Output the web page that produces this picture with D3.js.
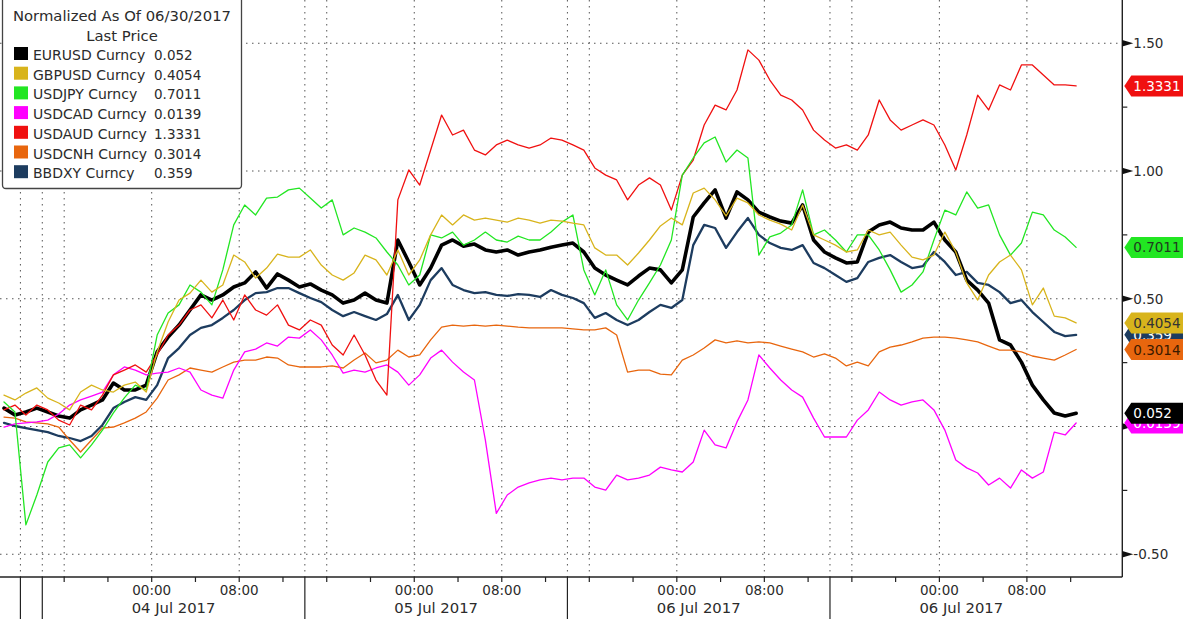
<!DOCTYPE html>
<html><head><meta charset="utf-8">
<script src="https://cdn.jsdelivr.net/npm/d3@7"></script>
<style>
html,body{margin:0;padding:0;background:#fff;}
svg{display:block;font-family:"DejaVu Sans",Verdana,sans-serif;}
</style></head><body>
<svg id="chart" width="1183" height="624"></svg>
<script>
// ---------------- DATA ----------------
const seriesNames = ["EURUSD Curncy","GBPUSD Curncy","USDJPY Curncy","USDCAD Curncy","USDAUD Curncy","USDCNH Curncy","BBDXY Curncy"];
const lastPrices  = ["0.052","0.4054","0.7011","0.0139","1.3331","0.3014","0.359"];
const seriesColors = ["#000000","#d8b41c","#22e622","#ff00ff","#f01010","#e8660e","#1d3c5f"];

// hourly samples, first sample 03 Jul 2017 10:30
const eurusd = [0.072,0.045,0.057,0.072,0.057,0.041,0.033,0.065,0.084,0.104,
0.170,0.143,0.143,0.162,0.292,0.350,0.397,0.456,0.515,0.495,
0.515,0.546,0.562,0.605,0.542,0.597,0.573,0.546,0.558,0.534,
0.515,0.483,0.495,0.522,0.495,0.483,0.730,0.644,0.554,0.620,
0.710,0.730,0.706,0.714,0.691,0.683,0.691,0.671,0.683,0.691,
0.702,0.710,0.718,0.683,0.620,0.593,0.573,0.554,0.589,0.620,
0.613,0.562,0.613,0.820,0.875,0.926,0.816,0.918,0.887,0.839,
0.820,0.804,0.796,0.867,0.730,0.683,0.660,0.640,0.644,0.761,
0.789,0.800,0.777,0.769,0.769,0.800,0.730,0.683,0.573,0.534,
0.483,0.339,0.319,0.252,0.162,0.104,0.053,0.041,0.052];
const gbpusd = [0.123,0.104,0.131,0.151,0.111,0.092,0.065,0.135,0.162,0.143,
0.135,0.162,0.174,0.135,0.292,0.409,0.495,0.522,0.573,0.526,
0.554,0.671,0.644,0.581,0.620,0.675,0.663,0.663,0.691,0.632,
0.593,0.573,0.601,0.671,0.652,0.593,0.691,0.593,0.652,0.750,
0.828,0.789,0.828,0.808,0.816,0.808,0.800,0.816,0.808,0.796,
0.808,0.804,0.796,0.789,0.699,0.671,0.671,0.632,0.679,0.730,
0.785,0.816,0.789,0.914,0.933,0.887,0.824,0.894,0.875,0.828,
0.808,0.792,0.769,0.867,0.750,0.730,0.710,0.683,0.691,0.769,
0.750,0.761,0.710,0.663,0.652,0.671,0.761,0.683,0.562,0.495,
0.593,0.644,0.671,0.613,0.476,0.542,0.432,0.425,0.4054];
const usdjpy = [0.096,0.057,-0.385,-0.268,-0.139,-0.084,-0.072,-0.123,-0.072,-0.014,
0.053,0.112,0.162,0.143,0.358,0.444,0.476,0.554,0.526,0.476,
0.613,0.789,0.867,0.828,0.894,0.898,0.926,0.933,0.894,0.855,
0.887,0.750,0.777,0.761,0.738,0.683,0.632,0.554,0.593,0.750,
0.738,0.761,0.710,0.730,0.761,0.730,0.722,0.745,0.730,0.730,
0.761,0.800,0.828,0.613,0.515,0.613,0.476,0.417,0.495,0.562,
0.632,0.730,0.984,1.051,1.110,1.133,1.035,1.082,1.051,0.671,
0.742,0.757,0.789,0.926,0.750,0.769,0.730,0.683,0.750,0.750,
0.691,0.613,0.526,0.554,0.605,0.730,0.847,0.828,0.918,0.855,
0.867,0.750,0.671,0.718,0.839,0.828,0.769,0.742,0.7011];
const usdcad = [-0.002,0.010,0.014,0.018,0.025,0.049,0.084,0.104,0.119,0.135,
0.202,0.233,0.221,0.202,0.209,0.213,0.229,0.213,0.143,0.123,
0.111,0.221,0.292,0.303,0.327,0.315,0.350,0.346,0.378,0.339,
0.280,0.209,0.221,0.213,0.229,0.241,0.213,0.162,0.202,0.268,
0.299,0.252,0.213,0.182,-0.053,-0.340,-0.268,-0.237,-0.221,-0.209,
-0.202,-0.209,-0.202,-0.202,-0.237,-0.249,-0.190,-0.209,-0.202,-0.190,
-0.159,-0.170,-0.178,-0.139,-0.014,-0.072,-0.084,0.018,0.104,0.280,
0.229,0.182,0.143,0.115,0.033,-0.041,-0.041,-0.041,0.025,0.065,
0.135,0.104,0.084,0.096,0.104,0.065,-0.014,-0.131,-0.162,-0.182,
-0.229,-0.202,-0.241,-0.170,-0.202,-0.178,-0.022,-0.033,0.0139];
const usdaud = [0.065,0.084,0.045,0.084,0.065,0.025,0.006,0.084,0.065,0.123,
0.202,0.221,0.241,0.213,0.280,0.358,0.397,0.456,0.476,0.425,
0.495,0.417,0.515,0.456,0.436,0.476,0.397,0.378,0.417,0.397,
0.319,0.280,0.358,0.280,0.182,0.123,0.887,1.004,0.945,1.082,
1.219,1.141,1.160,1.082,1.063,1.102,1.121,1.102,1.090,1.102,
1.129,1.121,1.102,1.082,1.012,0.984,0.965,0.887,0.945,0.973,
0.945,0.847,0.984,1.043,1.180,1.258,1.239,1.317,1.474,1.434,
1.356,1.297,1.278,1.239,1.160,1.121,1.090,1.102,1.082,1.141,
1.278,1.200,1.160,1.180,1.200,1.180,1.102,1.004,1.141,1.297,
1.239,1.337,1.317,1.415,1.415,1.376,1.337,1.337,1.3331];
const usdcnh = [0.037,0.033,0.018,0.014,0.010,-0.002,-0.053,-0.100,-0.053,-0.006,
-0.002,0.014,0.033,0.057,0.111,0.182,0.202,0.229,0.221,0.213,
0.233,0.252,0.260,0.260,0.272,0.268,0.241,0.233,0.233,0.233,
0.237,0.229,0.260,0.288,0.249,0.260,0.299,0.272,0.280,0.339,
0.389,0.397,0.393,0.397,0.393,0.397,0.393,0.389,0.386,0.386,
0.386,0.386,0.382,0.378,0.378,0.386,0.358,0.213,0.221,0.221,
0.205,0.202,0.260,0.280,0.307,0.339,0.327,0.335,0.327,0.331,
0.327,0.315,0.303,0.292,0.272,0.284,0.268,0.237,0.252,0.237,
0.292,0.311,0.319,0.331,0.346,0.350,0.350,0.346,0.339,0.331,
0.315,0.299,0.299,0.292,0.276,0.268,0.260,0.280,0.3014];
const bbdxy = [0.014,0.002,-0.006,-0.014,-0.022,-0.037,-0.045,-0.057,-0.037,0.006,
0.072,0.096,0.115,0.104,0.162,0.268,0.307,0.358,0.386,0.397,
0.425,0.456,0.495,0.522,0.526,0.542,0.542,0.522,0.503,0.487,
0.456,0.432,0.448,0.432,0.417,0.440,0.515,0.417,0.476,0.573,
0.620,0.554,0.534,0.522,0.526,0.515,0.511,0.518,0.515,0.507,
0.534,0.515,0.503,0.483,0.425,0.444,0.417,0.397,0.417,0.448,
0.476,0.464,0.495,0.710,0.789,0.777,0.699,0.761,0.816,0.750,
0.718,0.699,0.691,0.710,0.640,0.620,0.593,0.566,0.581,0.644,
0.660,0.671,0.644,0.620,0.628,0.683,0.644,0.593,0.605,0.562,
0.554,0.526,0.483,0.495,0.448,0.409,0.370,0.354,0.359];

const yTicks = [1.5, 1.0, 0.5, 0.0, -0.5];
const yTickLabels = ["1.50","1.00","0.50","0.00","-0.50"];
const yMinorTicks = [1.25, 0.75, 0.25, -0.25];

// x positions expressed in hours relative to 04 Jul 2017 00:00
const xSmallTickHours = [-8,-4,0,4,8,12,16,20,24,28,32,36,40,44,48,52,56,60,64,68,72,76,80,84];
const xLongTickHours = [-12,-10,14,38,62];
const xGridHours = [-12,-10,-8,0,8,14,16,24,32,38,40,48,56,62,64,72,80];
const timeLabelHours = [0,8,24,32,48,56,72,80];
const timeLabels = ["00:00","08:00","00:00","08:00","00:00","08:00","00:00","08:00"];
const dayLabelHours = [2,26,50,74];
const dayLabels = ["04 Jul 2017","05 Jul 2017","06 Jul 2017","06 Jul 2017"];
const legendTitle = ["Normalized As Of 06/30/2017","Last Price"];

// ---------------- SETUP ----------------
const W = 1183, H = 624;
const plotRight = 1122.3, plotBottom = 577;
const HOUR = 3600e3;
const base = Date.UTC(2017, 6, 4, 0, 0);
const firstSample = Date.UTC(2017, 6, 3, 10, 30);
const hr = h => new Date(base + h * HOUR);

const x = d3.scaleUtc().domain([hr(-13.866), hr(88.72)]).range([0, plotRight]);
const y = d3.scaleLinear().domain([-0.589, 1.6693]).range([plotBottom, 0]);

const svg = d3.select("#chart");
svg.append("rect").attr("width", W).attr("height", H).attr("fill", "#fff");

svg.append("clipPath").attr("id", "plotclip")
  .append("rect").attr("x", 0).attr("y", 0).attr("width", plotRight).attr("height", plotBottom);

const textColor = "#2b2b2b";
const gridColor = "#555";
const titleSize = 14.8, nameSize = 14, numSize = 13.5;

// grid
const grid = svg.append("g");
grid.selectAll("line.hg").data(yTicks).join("line")
  .attr("x1", 0).attr("x2", plotRight)
  .attr("y1", d => y(d)).attr("y2", d => y(d))
  .attr("stroke", gridColor).attr("stroke-width", 1).attr("stroke-dasharray", "1.5,4.5");
grid.selectAll("line.vg").data(xGridHours).join("line")
  .attr("x1", d => x(hr(d))).attr("x2", d => x(hr(d)))
  .attr("y1", 0).attr("y2", plotBottom)
  .attr("stroke", gridColor).attr("stroke-width", 1).attr("stroke-dasharray", "1.5,4.5");

// series
const allSeries = [eurusd, gbpusd, usdjpy, usdcad, usdaud, usdcnh, bbdxy];
const widths = [3.6, 1.3, 1.3, 1.3, 1.3, 1.3, 2.3];
const drawOrder = [6, 0, 5, 3, 4, 2, 1];
const line = d3.line()
  .x((d, i) => x(new Date(firstSample + i * HOUR)))
  .y(d => y(d));
const lines = svg.append("g").attr("clip-path", "url(#plotclip)");
drawOrder.forEach(k => {
  lines.append("path").datum(allSeries[k])
    .attr("d", line).attr("fill", "none")
    .attr("stroke", seriesColors[k]).attr("stroke-width", widths[k])
    .attr("stroke-linejoin", "round").attr("stroke-linecap", "round");
});

// axes lines
svg.append("line").attr("x1", 0).attr("x2", plotRight).attr("y1", plotBottom).attr("y2", plotBottom)
  .attr("stroke", "#222").attr("stroke-width", 1.4);
svg.append("line").attr("x1", plotRight).attr("x2", plotRight).attr("y1", 0).attr("y2", plotBottom)
  .attr("stroke", "#222").attr("stroke-width", 1.4);

// bottom ticks
const bt = svg.append("g");
bt.selectAll("line.st").data(xSmallTickHours).join("line")
  .attr("x1", d => x(hr(d))).attr("x2", d => x(hr(d)))
  .attr("y1", plotBottom).attr("y2", plotBottom + 5)
  .attr("stroke", "#222").attr("stroke-width", 1.2);
bt.selectAll("line.lt").data(xLongTickHours).join("line")
  .attr("x1", d => x(hr(d))).attr("x2", d => x(hr(d)))
  .attr("y1", plotBottom).attr("y2", plotBottom + 42)
  .attr("stroke", "#222").attr("stroke-width", 1.2);
bt.selectAll("text.tl").data(timeLabelHours).join("text")
  .attr("x", d => x(hr(d))).attr("y", 595)
  .attr("text-anchor", "middle").attr("font-size", numSize).attr("fill", textColor)
  .text((d, i) => timeLabels[i]);
bt.selectAll("text.dl").data(dayLabelHours).join("text")
  .attr("x", d => x(hr(d))).attr("y", 613)
  .attr("text-anchor", "middle").attr("font-size", titleSize).attr("fill", textColor)
  .text((d, i) => dayLabels[i]);

// right axis ticks and labels
const ra = svg.append("g");
ra.selectAll("line.mt").data(yMinorTicks).join("line")
  .attr("x1", plotRight).attr("x2", plotRight + 5)
  .attr("y1", d => y(d)).attr("y2", d => y(d))
  .attr("stroke", "#222").attr("stroke-width", 1.2);
ra.selectAll("path.tri").data(yTicks).join("path")
  .attr("d", d => `M${plotRight},${y(d) - 3.2}L${plotRight + 11},${y(d)}L${plotRight},${y(d) + 3.2}Z`)
  .attr("fill", "#111");
ra.selectAll("text.yl").data(yTicks).join("text")
  .attr("x", plotRight + 11).attr("y", d => y(d) + 5)
  .attr("font-size", numSize).attr("fill", textColor)
  .text((d, i) => yTickLabels[i]);

// last price badges
const badgeTextColors = ["#fff", "#333", "#1f3a1f", "#fff", "#fff", "#3a1a00", "#fff"];
const badgeOrder = [6, 5, 4, 3, 2, 1, 0];
const bg = svg.append("g");
badgeOrder.forEach(k => {
  const s = allSeries[k];
  const cy = y(s[s.length - 1]);
  const x0 = plotRight + 2, x1 = plotRight + 9, x2 = W + 2;
  bg.append("path")
    .attr("d", `M${x0},${cy}L${x1},${cy - 10.5}L${x2},${cy - 10.5}L${x2},${cy + 10.5}L${x1},${cy + 10.5}Z`)
    .attr("fill", seriesColors[k]);
  bg.append("text").attr("x", plotRight + 11).attr("y", cy + 5)
    .attr("font-size", numSize).attr("fill", badgeTextColors[k])
    .text(lastPrices[k]);
});

// legend
const lg = svg.append("g");
lg.append("path")
  .attr("d", "M2.5,-2 L2.5,185 Q2.5,188.5 6,188.5 L238,188.5 Q241.5,188.5 241.5,185 L241.5,-2")
  .attr("fill", "#fff").attr("stroke", "#444").attr("stroke-width", 1.3);
lg.selectAll("text.ttl").data(legendTitle).join("text")
  .attr("x", 122).attr("y", (d, i) => 21 + i * 19.5)
  .attr("text-anchor", "middle").attr("font-size", titleSize).attr("fill", textColor)
  .text(d => d);
seriesNames.forEach((name, k) => {
  const by = 60 + k * 19.7;
  lg.append("rect").attr("x", 14).attr("y", by - 13).attr("width", 14).attr("height", 13)
    .attr("fill", seriesColors[k]);
  lg.append("text").attr("x", 33).attr("y", by).attr("font-size", nameSize).attr("fill", textColor).text(name);
  lg.append("text").attr("x", 154).attr("y", by).attr("font-size", numSize).attr("fill", textColor).text(lastPrices[k]);
});
</script>
</body></html>
